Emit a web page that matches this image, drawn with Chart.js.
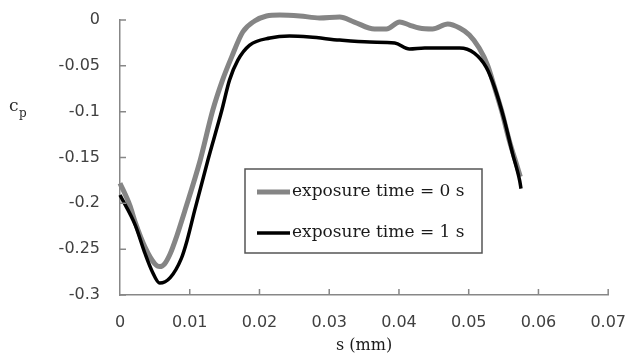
<!DOCTYPE html>
<html>
<head>
<meta charset="utf-8">
<script src="https://cdn.jsdelivr.net/npm/chart.js@4/dist/chart.umd.min.js"></script>
<style>
  html, body { margin: 0; padding: 0; background: #fff; }
  #wrap { width: 626px; height: 355px; }
</style>
</head>
<body>
<div id="wrap"><canvas id="myChart" width="626" height="355"></canvas></div>
<script>
// exposure time = 0 s (grey)
const sExp0 = [0, 0.0014, 0.0022, 0.0036, 0.0050, 0.0057, 0.0064, 0.0072, 0.0079, 0.0093, 0.0115,
  0.0133, 0.0147, 0.0160, 0.0176, 0.0193, 0.0210, 0.0229, 0.0258, 0.0286, 0.0315, 0.0336, 0.0365, 0.0382,
  0.0401, 0.0415, 0.0429, 0.0448, 0.0470, 0.0487, 0.0501, 0.0515, 0.0527, 0.0537, 0.0547, 0.0558,
  0.0570, 0.0574]
const cpExp0 = [-0.178, -0.202, -0.221, -0.248, -0.266, -0.269, -0.266, -0.255, -0.241, -0.208, -0.153,
  -0.0985, -0.0656, -0.0405, -0.0131, -0.0011, 0.0044, 0.0055, 0.0044, 0.0022, 0.0033, -0.0022, -0.0098, -0.0098,
  -0.0022, -0.0055, -0.0088, -0.0098, -0.0044, -0.0088, -0.0164, -0.0306, -0.0492, -0.0733, -0.0985, -0.131,
  -0.161, -0.171]

// exposure time = 1 s (black)
const sExp1 = [0, 0.0022, 0.0036, 0.0046, 0.0057, 0.0072, 0.0088, 0.0096, 0.0107, 0.0126, 0.0146,
  0.0157, 0.0169, 0.0186, 0.0215, 0.0243, 0.0272, 0.0315, 0.0358, 0.0394, 0.0415, 0.0437, 0.0487,
  0.0508, 0.0525, 0.0537, 0.0551, 0.0563, 0.0573, 0.0575]
const cpExp1 = [-0.191, -0.224, -0.255, -0.274, -0.287, -0.281, -0.260, -0.241, -0.208, -0.153, -0.0985,
  -0.0656, -0.0438, -0.0274, -0.0197, -0.0175, -0.0186, -0.0219, -0.0241, -0.0252, -0.0317, -0.0306, -0.0306,
  -0.0361, -0.0514, -0.0733, -0.109, -0.146, -0.175, -0.184]

const seriesNames = ['exposure time = 0 s', 'exposure time = 1 s']
const seriesColors = ['#858585', '#000000']

const xTickValues = [0, 0.01, 0.02, 0.03, 0.04, 0.05, 0.06, 0.07]
const xTickLabels = ['0', '0.01', '0.02', '0.03', '0.04', '0.05', '0.06', '0.07']
const yTickValues = [-0.3, -0.25, -0.2, -0.15, -0.1, -0.05, 0]
const yTickLabels = ['-0.3', '-0.25', '-0.2', '-0.15', '-0.1', '-0.05', '0']

function toPoints(xs, ys) {
  return xs.map((x, i) => ({ x: x, y: ys[i] }))
}

const axisColor = '#878787'
const tickFont = { family: 'DejaVu Sans', size: 16 }
const serif = 'DejaVu Serif'

// inward tick marks, Excel style
const innerTicks = {
  id: 'innerTicks',
  afterDraw(chart) {
    const c = chart.ctx
    const xs = chart.scales.x
    const ys = chart.scales.y
    const area = chart.chartArea
    c.save()
    c.strokeStyle = axisColor
    c.lineWidth = 1.5
    c.beginPath()
    xTickValues.forEach(v => {
      if (v === 0) return
      const px = xs.getPixelForValue(v)
      c.moveTo(px, area.bottom)
      c.lineTo(px, area.bottom - 6)
    })
    yTickValues.forEach(v => {
      const py = ys.getPixelForValue(v)
      c.moveTo(area.left, py)
      c.lineTo(area.left + 6, py)
    })
    c.stroke()
    c.restore()
  }
}

// legend box in the plot + y axis title with subscript
const boxLegend = {
  id: 'boxLegend',
  afterDraw(chart) {
    const c = chart.ctx
    const a = chart.chartArea
    const bx = a.left + 125, by = a.top + 149, bw = 237, bh = 84
    c.save()
    c.fillStyle = '#fff'
    c.fillRect(bx, by, bw, bh)
    c.strokeStyle = '#555'
    c.lineWidth = 1.5
    c.strokeRect(bx, by, bw, bh)
    const rows = [by + 23, by + 64]
    c.font = '17px "' + serif + '"'
    c.textBaseline = 'middle'
    c.textAlign = 'left'
    seriesNames.forEach((name, i) => {
      c.strokeStyle = seriesColors[i]
      c.lineWidth = i === 0 ? 5 : 3.5
      c.beginPath()
      c.moveTo(bx + 12, rows[i])
      c.lineTo(bx + 45, rows[i])
      c.stroke()
      c.fillStyle = '#1a1a1a'
      c.fillText(name, bx + 47, rows[i])
    })
    // c_p title
    c.fillStyle = '#2a2a2a'
    c.font = '17px "' + serif + '"'
    c.fillText('c', 9, 107)
    c.font = '12px "' + serif + '"'
    c.fillText('p', 19, 114)
    c.restore()
  }
}

const ctx = document.getElementById('myChart')
const myChart = new Chart(ctx, {
  type: 'scatter',
  data: {
    datasets: [
      {
        label: seriesNames[0],
        data: toPoints(sExp0, cpExp0),
        showLine: true,
        borderColor: seriesColors[0],
        borderWidth: 5,
        pointRadius: 0,
        cubicInterpolationMode: 'monotone',
        clip: false,
        order: 1
      },
      {
        label: seriesNames[1],
        data: toPoints(sExp1, cpExp1),
        showLine: true,
        borderColor: seriesColors[1],
        borderWidth: 3.5,
        pointRadius: 0,
        cubicInterpolationMode: 'monotone',
        clip: false,
        order: 0
      }
    ]
  },
  options: {
    responsive: false,
    devicePixelRatio: 1,
    animation: false,
    layout: { padding: { top: 20, right: 0, left: 0, bottom: 0 } },
    plugins: {
      legend: { display: false },
      tooltip: { enabled: false }
    },
    scales: {
      x: {
        type: 'linear',
        min: 0,
        max: 0.07,
        afterBuildTicks: scale => { scale.ticks = xTickValues.map(v => ({ value: v })) },
        afterFit: scale => { scale.height = 60 },
        // invisible tick marks only to push labels down
        grid: { display: true, drawOnChartArea: false, drawTicks: true, tickLength: 18, tickColor: 'rgba(0,0,0,0)' },
        border: { display: true, color: axisColor, width: 1.5 },
        ticks: {
          padding: 0,
          color: '#404040',
          font: tickFont,
          maxRotation: 0,
          autoSkip: false,
          callback: (v, i) => xTickLabels[i]
        },
        title: {
          display: true,
          text: 's (mm)',
          color: '#1a1a1a',
          font: { family: serif, size: 16 },
          padding: { top: -4, bottom: 0 }
        }
      },
      y: {
        type: 'linear',
        min: -0.3,
        max: 0,
        afterBuildTicks: scale => { scale.ticks = yTickValues.map(v => ({ value: v })) },
        afterFit: scale => { scale.width = 120 },
        grid: { display: true, drawOnChartArea: false, drawTicks: true, tickLength: 20, tickColor: 'rgba(0,0,0,0)' },
        border: { display: true, color: axisColor, width: 1.5 },
        ticks: {
          padding: 0,
          color: '#404040',
          font: tickFont,
          autoSkip: false,
          callback: (v, i) => yTickLabels[i]
        }
      }
    }
  },
  plugins: [innerTicks, boxLegend]
})

// nudge the plot area to the reference frame (top 20, right 609)
let padTop = 20
let padRight = 0
for (let k = 0; k < 3; k++) {
  const a = myChart.chartArea
  padTop += 20 - a.top
  padRight += a.right - 609
  myChart.config.options.layout.padding = { top: padTop, right: padRight, left: 0, bottom: 0 }
  myChart.update()
}
</script>
</body>
</html>
